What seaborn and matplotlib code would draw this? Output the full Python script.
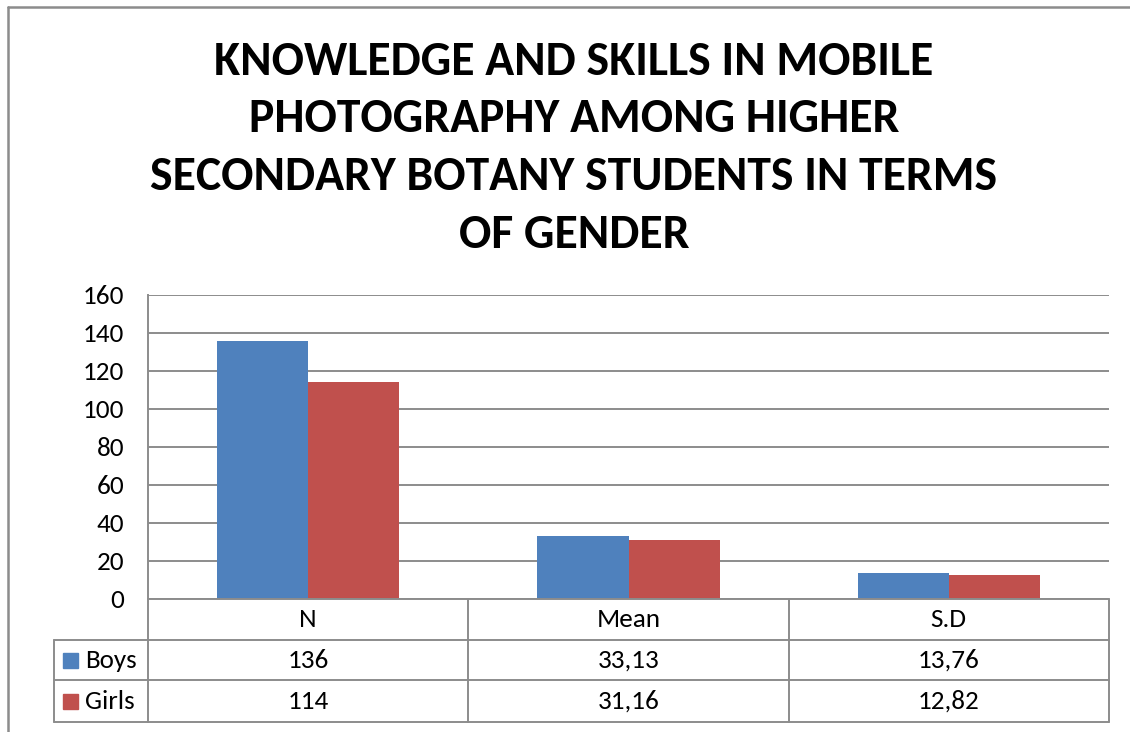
import numpy as np
import pandas as pd
import matplotlib
matplotlib.use("Agg")
import matplotlib.pyplot as plt
import seaborn as sns

sns.set_style("white")
plt.rcParams['font.family'] = ['Carlito', 'Lato', 'DejaVu Sans']
plt.rcParams['text.color'] = 'black'
plt.rcParams['ytick.color'] = 'black'

title = "KNOWLEDGE AND SKILLS IN MOBILE\nPHOTOGRAPHY AMONG HIGHER\nSECONDARY BOTANY STUDENTS IN TERMS\nOF GENDER"
categories = ["N", "Mean", "S.D"]
groups = ["Boys", "Girls"]
boys = [136, 33.13, 13.76]
girls = [114, 31.16, 12.82]
boys_labels = ["136", "33,13", "13,76"]
girls_labels = ["114", "31,16", "12,82"]
yticks = [0, 20, 40, 60, 80, 100, 120, 140, 160]
colors = ["#4F81BD", "#C0504D"]
grid_col = "#8c8c8c"

df = pd.DataFrame({
    "stat": categories * 2,
    "value": boys + girls,
    "group": [groups[0]] * 3 + [groups[1]] * 3,
})

fig = plt.figure(figsize=(11.30, 7.32), dpi=100)
ax = fig.add_axes([0.131, 0.1817, 0.8504, 0.4153])

sns.barplot(data=df, x="stat", y="value", hue="group", order=categories,
            hue_order=groups, palette=colors, width=0.57, gap=0,
            saturation=1, ax=ax, legend=False, edgecolor="none")

fs = 19.5
ax.set_ylim(0, 160)
ax.set_xlim(-0.5, 2.5)
ax.set_yticks(yticks)
ax.set_yticklabels([str(t) for t in yticks], fontsize=fs, color="black")
ax.tick_params(axis="y", length=0, pad=17)
ax.set_xticks([])
ax.set_xlabel("")
ax.set_ylabel("")
ax.yaxis.grid(True, color=grid_col, lw=1.4)
ax.set_axisbelow(True)
for s in ["top", "right", "bottom"]:
    ax.spines[s].set_visible(False)
ax.spines["left"].set_color(grid_col)
ax.spines["left"].set_linewidth(1.4)

# data table under the plot
tr = ax.get_xaxis_transform()
rows_y = [0, -0.135, -0.268, -0.405]
left_x = -0.5 - 94 / 320.33
kw = dict(color=grid_col, lw=1.4, clip_on=False, transform=tr)
ax.plot([-0.5, 2.5], [0, 0], **kw)
for y in rows_y[1:]:
    ax.plot([left_x, 2.5], [y, y], **kw)
for x in [-0.5, 0.5, 1.5, 2.5]:
    ax.plot([x, x], [0, rows_y[-1]], **kw)
ax.plot([left_x, left_x], [rows_y[1], rows_y[-1]], **kw)

for i, cat in enumerate(categories):
    ax.text(i, (rows_y[0] + rows_y[1]) / 2, cat, transform=tr, ha="center", va="center", fontsize=fs)
    ax.text(i, (rows_y[1] + rows_y[2]) / 2, boys_labels[i], transform=tr, ha="center", va="center", fontsize=fs)
    ax.text(i, (rows_y[2] + rows_y[3]) / 2, girls_labels[i], transform=tr, ha="center", va="center", fontsize=fs)

for j, g in enumerate(groups):
    yc = (rows_y[j + 1] + rows_y[j + 2]) / 2
    ax.add_patch(plt.Rectangle((left_x + 0.028, yc - 0.025), 0.047, 0.05,
                               color=colors[j], transform=tr, clip_on=False))
    ax.text(left_x + 0.097, yc, g, transform=tr, ha="left", va="center", fontsize=fs)

# outer frame (top and left edges)
fig.add_artist(plt.Line2D([8 / 1130, 1.0], [1 - 7 / 732, 1 - 7 / 732], color="#8c8c8c", lw=1.8))
fig.add_artist(plt.Line2D([8 / 1130, 8 / 1130], [0, 1 - 7 / 732], color="#8c8c8c", lw=1.8))

fig.text(0.508, 0.7975, title, ha="center", va="center", fontsize=34.4,
         fontweight="bold", linespacing=1.46, color="black")

fig.savefig("out.png", dpi=100)
